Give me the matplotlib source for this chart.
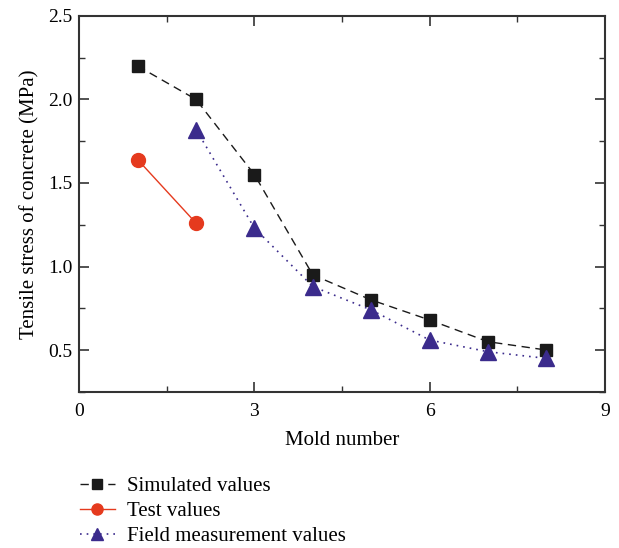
import matplotlib
matplotlib.use("Agg")
import matplotlib.pyplot as plt
from matplotlib.ticker import MultipleLocator

plt.rcParams['font.family'] = ['Liberation Serif', 'DejaVu Serif']

sim_x = [1, 2, 3, 4, 5, 6, 7, 8]
sim_y = [2.20, 2.00, 1.55, 0.95, 0.80, 0.68, 0.55, 0.50]
test_x = [1, 2]
test_y = [1.64, 1.26]
field_x = [2, 3, 4, 5, 6, 7, 8]
field_y = [1.82, 1.23, 0.88, 0.74, 0.56, 0.49, 0.45]

fig = plt.figure(figsize=(6.19, 5.48), dpi=100)
ax = fig.add_axes([0.128, 0.285, 0.849, 0.686])

l1, = ax.plot(sim_x, sim_y, color='#1a1a1a', linestyle=(0, (6, 4)), linewidth=1.0,
              marker='s', markersize=9, markerfacecolor='#1a1a1a', markeredgecolor='#1a1a1a')
l2, = ax.plot(test_x, test_y, color='#e53a1e', linestyle='-', linewidth=1.0,
              marker='o', markersize=10, markerfacecolor='#e53a1e', markeredgecolor='#e53a1e')
l3, = ax.plot(field_x, field_y, color='#3b2b8c', linestyle=(0, (1, 3)), linewidth=1.2,
              marker='^', markersize=11, markerfacecolor='#3b2b8c', markeredgecolor='#3b2b8c')

ax.set_xlim(0, 9)
ax.set_ylim(0.25, 2.5)
ax.xaxis.set_major_locator(MultipleLocator(3))
ax.xaxis.set_minor_locator(MultipleLocator(1.5))
ax.yaxis.set_minor_locator(MultipleLocator(0.25))
ax.set_yticks([0.5, 1.0, 1.5, 2.0, 2.5])
ax.set_yticklabels(['0.5', '1.0', '1.5', '2.0', '2.5'])
ax.tick_params(which='both', direction='in', top=True, right=True, labelsize=14, color='#333333')
ax.tick_params(which='major', length=7, width=1.2)
ax.tick_params(which='minor', length=4, width=1.0)
ax.tick_params(axis='x', which='major', pad=8)
ax.tick_params(axis='y', which='major', pad=5)
for s in ax.spines.values():
    s.set_linewidth(1.5)
    s.set_color('#333333')

ax.set_xlabel('Mold number', fontsize=15, labelpad=8)
ax.set_ylabel('Tensile stress of concrete (MPa)', fontsize=15, labelpad=6)

fig.legend([l1, l2, l3], ['Simulated values', 'Test values', 'Field measurement values'],
           loc='upper left', bbox_to_anchor=(0.115, 0.145), frameon=False, fontsize=15,
           handlelength=1.7, handletextpad=0.6, labelspacing=0.25, borderaxespad=0,
           markerscale=0.8)

fig.savefig('out.png', dpi=100)
